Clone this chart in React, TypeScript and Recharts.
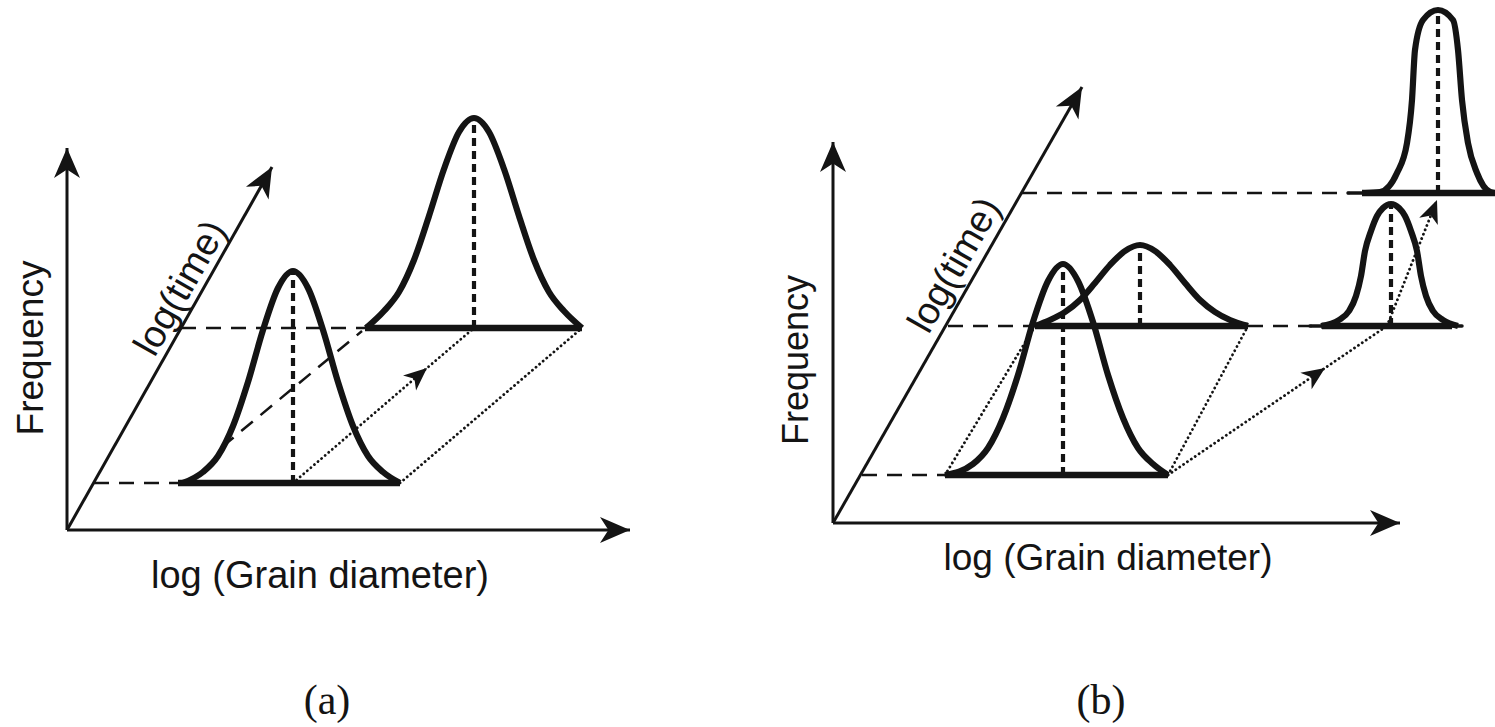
import React from 'react';
import { LineChart, Line, XAxis, YAxis, Customized } from 'recharts';

// Figure units: x from the left edge, y measured upward from the bottom edge (1495 x 727).
type Pt = { x: number; y: number };
const pts = (rows: number[][]): Pt[] => rows.map(([x, y]) => ({ x, y }));

const W = 1495;
const H = 727;

const axisTitles = ['Frequency', 'log (Grain diameter)', 'log(time)'];
const panelTags = ['(a)', '(b)'];

// ---- panel (a): self-similar growth, the distribution just shifts ----
const freqAxisA = pts([[67, 197], [67, 579]]);
const diamAxisA = pts([[67, 197], [630, 197]]);
const timeAxisA = pts([[67, 197], [272, 560]]);

const curveA1 = pts([
  [183, 244], [203, 255], [218, 271], [233, 301], [248, 345], [263, 397], [278, 439], [293, 456],
  [308, 439], [323, 397], [338, 345], [353, 301], [368, 271], [383, 255], [400, 244],
]);
const curveA2 = pts([
  [366, 399], [384, 416], [399, 435], [414, 467], [429, 511], [444, 558], [459, 595], [474, 609],
  [489, 595], [504, 558], [519, 511], [534, 467], [549, 435], [564, 416], [582, 399],
]);
const baseA1 = pts([[178, 244], [400, 244]]);
const baseA2 = pts([[365, 399], [582, 399]]);
const modeA1 = pts([[293, 244], [293, 456]]);
const modeA2 = pts([[474, 399], [474, 609]]);
const levelA1 = pts([[94, 244], [178, 244]]);
const levelA2 = pts([[181, 399], [365, 399]]);
const edgeLeftA = pts([[222, 280], [362, 396]]);
const pathModeA = pts([[293, 244], [427, 359], [474, 399]]);
const edgeRightA = pts([[400, 244], [582, 399]]);

// ---- panel (b): bimodal / abnormal growth ----
const freqAxisB = pts([[833, 204], [833, 585]]);
const diamAxisB = pts([[833, 204], [1400, 204]]);
const timeAxisB = pts([[833, 204], [1082, 640]]);

const curveB1 = pts([
  [945, 252], [973, 263], [988, 279], [1003, 309], [1018, 352], [1033, 405], [1048, 446], [1063, 463],
  [1078, 446], [1093, 405], [1108, 352], [1123, 309], [1138, 279], [1153, 263], [1168, 252],
]);
const curveB2 = pts([
  [1035, 401], [1050, 407], [1065, 415], [1080, 427], [1095, 444], [1110, 462], [1125, 476], [1140, 482],
  [1155, 476], [1170, 462], [1185, 444], [1200, 427], [1215, 415], [1230, 407], [1248, 401],
]);
const curveB3 = pts([
  [1321, 401], [1339, 407], [1349, 416], [1356, 431], [1361, 451], [1365, 476], [1371, 496], [1377, 511],
  [1383, 519], [1391, 523], [1399, 519], [1405, 511], [1411, 496], [1417, 476], [1421, 451], [1426, 431],
  [1433, 416], [1443, 407], [1458, 401],
]);
const curveB4 = pts([
  [1365, 534], [1380, 535], [1397, 554], [1407, 584], [1412, 627], [1415, 677], [1423, 707], [1438, 717],
  [1453, 707], [1458, 677], [1462, 627], [1468, 584], [1477, 554], [1490, 535], [1495, 534],
]);
const baseB1 = pts([[945, 252], [1168, 252]]);
const baseB2 = pts([[1035, 401], [1248, 401]]);
const baseB3 = pts([[1322, 401], [1452, 401]]);
const baseB4 = pts([[1362, 534], [1495, 534]]);
const tipsB3 = pts([[1310, 401], [1462, 401]]);
const tipsB4 = pts([[1348, 534], [1362, 534]]);
const modeB1 = pts([[1063, 252], [1063, 463]]);
const modeB2 = pts([[1140, 401], [1140, 482]]);
const modeB3 = pts([[1391, 401], [1391, 523]]);
const modeB4 = pts([[1438, 534], [1438, 717]]);
const levelB1 = pts([[862, 252], [945, 252]]);
const levelB2 = pts([[948, 401], [1035, 401]]);
const gapB2 = pts([[1248, 401], [1312, 401]]);
const levelB3 = pts([[1022, 534], [1350, 534]]);
const edgeLeftB = pts([[945, 252], [1035, 401]]);
const edgeRightB = pts([[1168, 252], [1248, 401]]);
const pathB = pts([[1168, 252], [1325, 359], [1387, 401]]);
const pathB2 = pts([[1387, 401], [1437, 527]]);

type Kind = 'axis' | 'curve' | 'base' | 'tip' | 'mode' | 'dash' | 'dot';
type Series = { id: string; data: Pt[]; kind: Kind; arrows?: number[] };

const series: Series[] = [
  { id: 'levelA1', data: levelA1, kind: 'dash' },
  { id: 'levelA2', data: levelA2, kind: 'dash' },
  { id: 'edgeLeftA', data: edgeLeftA, kind: 'dash' },
  { id: 'pathModeA', data: pathModeA, kind: 'dot', arrows: [1] },
  { id: 'edgeRightA', data: edgeRightA, kind: 'dot' },
  { id: 'modeA1', data: modeA1, kind: 'mode' },
  { id: 'modeA2', data: modeA2, kind: 'mode' },
  { id: 'curveA1', data: curveA1, kind: 'curve' },
  { id: 'curveA2', data: curveA2, kind: 'curve' },
  { id: 'baseA1', data: baseA1, kind: 'base' },
  { id: 'baseA2', data: baseA2, kind: 'base' },
  { id: 'freqAxisA', data: freqAxisA, kind: 'axis', arrows: [1] },
  { id: 'diamAxisA', data: diamAxisA, kind: 'axis', arrows: [1] },
  { id: 'timeAxisA', data: timeAxisA, kind: 'axis', arrows: [1] },

  { id: 'levelB1', data: levelB1, kind: 'dash' },
  { id: 'levelB2', data: levelB2, kind: 'dash' },
  { id: 'gapB2', data: gapB2, kind: 'dash' },
  { id: 'levelB3', data: levelB3, kind: 'dash' },
  { id: 'edgeLeftB', data: edgeLeftB, kind: 'dot' },
  { id: 'edgeRightB', data: edgeRightB, kind: 'dot' },
  { id: 'pathB', data: pathB, kind: 'dot', arrows: [1] },
  { id: 'pathB2', data: pathB2, kind: 'dot', arrows: [1] },
  { id: 'modeB1', data: modeB1, kind: 'mode' },
  { id: 'modeB2', data: modeB2, kind: 'mode' },
  { id: 'modeB3', data: modeB3, kind: 'mode' },
  { id: 'modeB4', data: modeB4, kind: 'mode' },
  { id: 'curveB1', data: curveB1, kind: 'curve' },
  { id: 'curveB2', data: curveB2, kind: 'curve' },
  { id: 'curveB3', data: curveB3, kind: 'curve' },
  { id: 'curveB4', data: curveB4, kind: 'curve' },
  { id: 'tipsB3', data: tipsB3, kind: 'tip' },
  { id: 'tipsB4', data: tipsB4, kind: 'tip' },
  { id: 'baseB1', data: baseB1, kind: 'base' },
  { id: 'baseB2', data: baseB2, kind: 'base' },
  { id: 'baseB3', data: baseB3, kind: 'base' },
  { id: 'baseB4', data: baseB4, kind: 'base' },
  { id: 'freqAxisB', data: freqAxisB, kind: 'axis', arrows: [1] },
  { id: 'diamAxisB', data: diamAxisB, kind: 'axis', arrows: [1] },
  { id: 'timeAxisB', data: timeAxisB, kind: 'axis', arrows: [1] },
];

const INK = '#141414';

const styles: Record<Kind, any> = {
  axis: { strokeWidth: 3 },
  curve: { strokeWidth: 6.2, type: 'monotone' },
  base: { strokeWidth: 6.5, strokeLinecap: 'butt' },
  tip: { strokeWidth: 3.5, strokeLinecap: 'round' },
  mode: { strokeWidth: 4.2, strokeDasharray: '8 5' },
  dash: { strokeWidth: 2.5, strokeDasharray: '15 10' },
  dot: { strokeWidth: 2.8, strokeDasharray: '0.1 4.6', strokeLinecap: 'round' },
};

// arrowhead drawn at chosen points, pointing along the segment that arrives there
const arrowDot = (data: Pt[], marks: number[], len: number, half: number) => (props: any) => {
  const { cx, cy, index } = props;
  if (!marks.includes(index) || cx == null || index === 0) return <g />;
  const prev = data[index - 1];
  const cur = data[index];
  const deg = (Math.atan2(-(cur.y - prev.y), cur.x - prev.x) * 180) / Math.PI;
  return (
    <path
      d={`M0,0 L${-len},${-half} L${-len * 0.72},0 L${-len},${half} Z`}
      transform={`translate(${cx},${cy}) rotate(${deg})`}
      fill={INK}
      stroke="none"
    />
  );
};

const sans = '"Liberation Sans", Arial, Helvetica, sans-serif';
const serif = '"Liberation Serif", "Times New Roman", serif';

function Labels() {
  const t = { fill: INK, fontFamily: sans, textAnchor: 'middle' as const };
  return (
    <g>
      <text {...t} x={43} y={348} fontSize={37} transform="rotate(-90 43 348)">{axisTitles[0]}</text>
      <text {...t} x={320} y={588} fontSize={38}>{axisTitles[1]}</text>
      <text {...t} x={191} y={294} fontSize={38} transform="rotate(-60.4 191 294)">{axisTitles[2]}</text>

      <text {...t} x={808} y={360} fontSize={36} transform="rotate(-90 808 360)">{axisTitles[0]}</text>
      <text {...t} x={1108} y={570} fontSize={37}>{axisTitles[1]}</text>
      <text {...t} x={965} y={271} fontSize={38} transform="rotate(-60.3 965 271)">{axisTitles[2]}</text>

      <text fill={INK} fontFamily={serif} textAnchor="middle" x={327} y={714} fontSize={42}>{panelTags[0]}</text>
      <text fill={INK} fontFamily={serif} textAnchor="middle" x={1101} y={714} fontSize={42}>{panelTags[1]}</text>
    </g>
  );
}

export default function App() {
  return (
    <div style={{ position: 'absolute', left: 0, top: 0, width: W, height: H, background: '#fff' }}>
      <LineChart width={W} height={H} margin={{ top: 0, right: 0, bottom: 0, left: 0 }}>
        <XAxis type="number" dataKey="x" domain={[0, W]} hide />
        <YAxis type="number" dataKey="y" domain={[0, H]} hide />
        {series.map((s) => {
          const st = styles[s.kind];
          const big = s.kind === 'axis';
          return (
            <Line
              key={s.id}
              data={s.data}
              dataKey="y"
              type={st.type || 'linear'}
              stroke={INK}
              strokeWidth={st.strokeWidth}
              strokeDasharray={st.strokeDasharray}
              strokeLinecap={st.strokeLinecap || 'butt'}
              fill="none"
              dot={s.arrows ? arrowDot(s.data, s.arrows, big ? 30 : 23, big ? 13 : 10) : false}
              activeDot={false}
              isAnimationActive={false}
            />
          );
        })}
        <Customized component={Labels} />
      </LineChart>
    </div>
  );
}
